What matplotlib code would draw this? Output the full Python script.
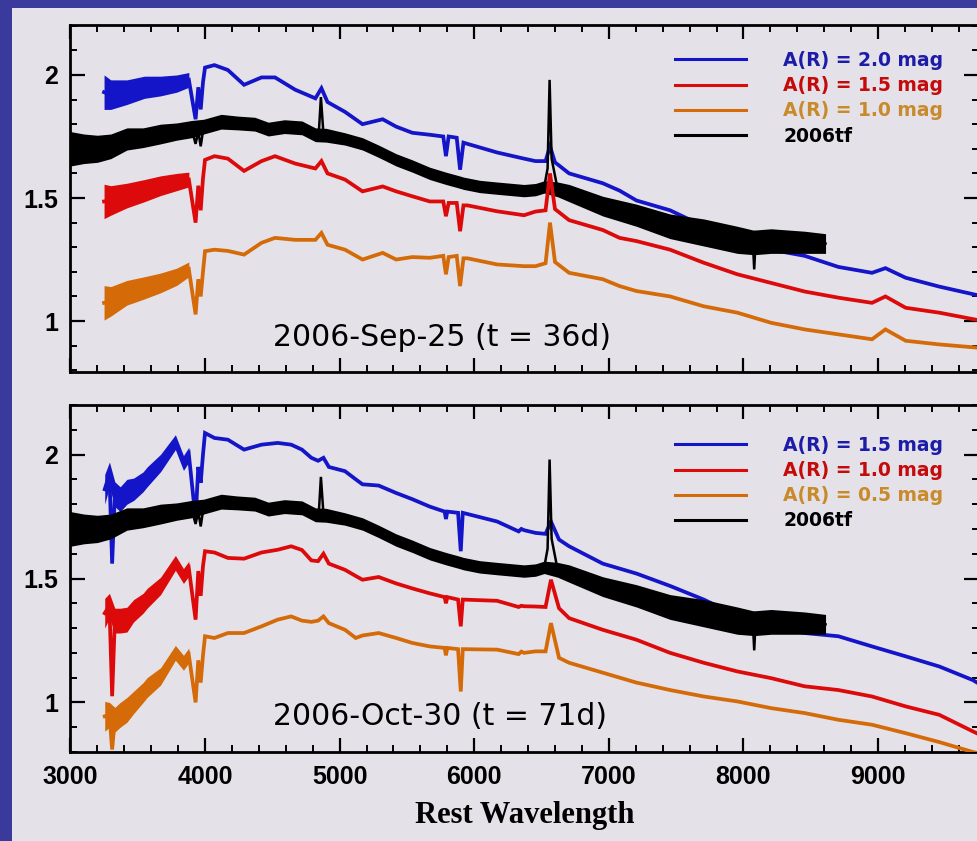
import numpy as np
import matplotlib
matplotlib.use("Agg")
import matplotlib.pyplot as plt
from matplotlib.patches import Rectangle
from matplotlib.lines import Line2D
from matplotlib.ticker import MultipleLocator, FixedLocator, FixedFormatter

# ---------------- data ----------------
# Top panel (2006-Sep-25): comparison spectrum reddened by A(R)=2.0/1.5/1.0 mag
wl_top = [3250, 3300, 3420, 3550, 3670, 3790, 3880, 3930, 3950, 3968, 3985, 4000,
          4070, 4170, 4290, 4420, 4520, 4670, 4820, 4865, 4910, 5040, 5170, 5320,
          5420, 5540, 5670, 5770, 5790, 5810, 5870, 5895, 5920, 5950, 6170, 6370,
          6455, 6530, 6563, 6600, 6705, 6955, 7080, 7205, 7455, 7705, 7955, 8205,
          8455, 8705, 8955, 9055, 9205, 9455, 9780]
top_ar20 = [1.93, 1.92, 1.93, 1.95, 1.955, 1.965, 1.98, 1.82, 1.95, 1.86, 1.97, 2.03,
            2.04, 2.02, 1.96, 1.99, 1.99, 1.94, 1.905, 1.946, 1.89, 1.85, 1.80, 1.82,
            1.79, 1.765, 1.757, 1.75, 1.67, 1.75, 1.745, 1.615, 1.725, 1.72, 1.685, 1.66,
            1.65, 1.65, 1.71, 1.645, 1.60, 1.56, 1.53, 1.49, 1.45, 1.385, 1.33, 1.29,
            1.265, 1.22, 1.196, 1.215, 1.176, 1.14, 1.10]
top_ar15 = [1.486, 1.49, 1.51, 1.53, 1.55, 1.565, 1.575, 1.40, 1.55, 1.45, 1.58, 1.655,
            1.67, 1.66, 1.61, 1.65, 1.67, 1.64, 1.62, 1.65, 1.60, 1.575, 1.527, 1.547,
            1.527, 1.507, 1.486, 1.486, 1.426, 1.48, 1.48, 1.365, 1.47, 1.47, 1.446, 1.43,
            1.445, 1.45, 1.60, 1.455, 1.41, 1.37, 1.338, 1.325, 1.29, 1.237, 1.19, 1.155,
            1.12, 1.095, 1.074, 1.10, 1.054, 1.034, 1.00]
top_ar10 = [1.074, 1.08, 1.115, 1.135, 1.155, 1.18, 1.21, 1.027, 1.17, 1.10, 1.20, 1.284,
            1.29, 1.285, 1.27, 1.318, 1.338, 1.33, 1.33, 1.358, 1.31, 1.29, 1.25, 1.277,
            1.25, 1.26, 1.257, 1.265, 1.19, 1.26, 1.265, 1.142, 1.255, 1.255, 1.23, 1.223,
            1.223, 1.235, 1.40, 1.24, 1.196, 1.17, 1.142, 1.122, 1.10, 1.06, 1.034, 0.993,
            0.966, 0.946, 0.926, 0.966, 0.92, 0.905, 0.89]
# half-width of the noise band (0 = no band at that point)
top_noise = [0.07, 0.06, 0.05, 0.045, 0.04, 0.035, 0.03, 0, 0, 0, 0, 0,
             0, 0, 0, 0, 0, 0, 0, 0, 0, 0, 0, 0,
             0, 0, 0, 0, 0, 0, 0, 0, 0, 0, 0, 0,
             0, 0, 0, 0, 0, 0, 0, 0, 0, 0, 0, 0,
             0, 0, 0, 0, 0, 0, 0]

# Bottom panel (2006-Oct-30): A(R)=1.5/1.0/0.5 mag
wl_bot = [3255, 3290, 3310, 3330, 3370, 3420, 3470, 3540, 3570, 3670, 3780, 3840,
          3880, 3930, 3950, 3968, 3985, 4000, 4070, 4170, 4290, 4420, 4540, 4640,
          4720, 4790, 4840, 4880, 4920, 5040, 5120, 5170, 5290, 5420, 5540, 5670,
          5780, 5790, 5800, 5880, 5900, 5915, 6170, 6330, 6350, 6370, 6455, 6530,
          6570, 6630, 6705, 6955, 7205, 7455, 7705, 7955, 8205, 8455, 8705, 8955,
          9205, 9455, 9705, 9782]
bot_ar15 = [1.86, 1.92, 1.56, 1.84, 1.82, 1.85, 1.86, 1.89, 1.91, 1.966, 2.05, 1.966,
            2.00, 1.74, 1.95, 1.886, 2.00, 2.087, 2.067, 2.06, 2.02, 2.04, 2.047, 2.04,
            2.02, 1.987, 1.975, 1.987, 1.95, 1.933, 1.90, 1.88, 1.875, 1.845, 1.82, 1.79,
            1.77, 1.74, 1.77, 1.765, 1.61, 1.765, 1.73, 1.69, 1.70, 1.695, 1.684, 1.68,
            1.73, 1.657, 1.63, 1.56, 1.52, 1.47, 1.415, 1.35, 1.307, 1.28, 1.267, 1.226,
            1.186, 1.145, 1.09, 1.065]
bot_ar10 = [1.36, 1.39, 1.025, 1.33, 1.33, 1.334, 1.37, 1.40, 1.42, 1.47, 1.563, 1.51,
            1.54, 1.334, 1.53, 1.43, 1.55, 1.61, 1.605, 1.583, 1.58, 1.605, 1.616, 1.63,
            1.615, 1.573, 1.57, 1.60, 1.56, 1.535, 1.51, 1.495, 1.506, 1.48, 1.46, 1.44,
            1.425, 1.40, 1.425, 1.415, 1.307, 1.415, 1.41, 1.385, 1.39, 1.388, 1.387, 1.385,
            1.495, 1.38, 1.34, 1.293, 1.253, 1.20, 1.16, 1.125, 1.098, 1.065, 1.05, 1.024,
            0.984, 0.95, 0.883, 0.863]
bot_ar05 = [0.944, 0.95, 0.81, 0.93, 0.95, 0.97, 1.00, 1.04, 1.06, 1.105, 1.20, 1.16,
            1.19, 1.00, 1.17, 1.08, 1.19, 1.267, 1.26, 1.28, 1.28, 1.307, 1.334, 1.347,
            1.33, 1.325, 1.33, 1.347, 1.32, 1.293, 1.26, 1.27, 1.28, 1.26, 1.24, 1.226,
            1.22, 1.19, 1.22, 1.215, 1.044, 1.215, 1.213, 1.195, 1.205, 1.20, 1.206, 1.206,
            1.32, 1.18, 1.16, 1.12, 1.08, 1.05, 1.024, 1.004, 0.977, 0.957, 0.93, 0.91,
            0.876, 0.84, 0.80, 0.79]
bot_noise = [0.06, 0.05, 0, 0.05, 0.05, 0.05, 0.045, 0.04, 0.04, 0.035, 0.03, 0.03,
             0.03, 0, 0, 0, 0, 0, 0, 0, 0, 0, 0, 0,
             0, 0, 0, 0, 0, 0, 0, 0, 0, 0, 0, 0,
             0, 0, 0, 0, 0, 0, 0, 0, 0, 0, 0, 0,
             0, 0, 0, 0, 0, 0, 0, 0, 0, 0, 0, 0,
             0, 0, 0, 0]

# SN 2006tf observed spectrum (black)
wl_06tf = [3000, 3100, 3200, 3300, 3420, 3540, 3670, 3790, 3900, 3930, 3950, 3968,
           3990, 4120, 4240, 4370, 4470, 4590, 4720, 4820, 4845, 4861, 4880, 4900,
           5040, 5170, 5290, 5420, 5540, 5670, 5790, 5890, 5905, 5920, 6040, 6170,
           6370, 6455, 6520, 6545, 6560, 6575, 6620, 6705, 6955, 7205, 7455, 7705,
           7955, 8070, 8080, 8090, 8205, 8455, 8610]
flux_06tf = [1.70, 1.70, 1.70, 1.71, 1.74, 1.745, 1.76, 1.77, 1.78, 1.72, 1.77, 1.71,
             1.79, 1.81, 1.805, 1.80, 1.78, 1.79, 1.785, 1.757, 1.76, 1.91, 1.76, 1.755,
             1.74, 1.72, 1.69, 1.655, 1.63, 1.60, 1.58, 1.565, 1.54, 1.56, 1.547, 1.54,
             1.53, 1.534, 1.545, 1.62, 1.98, 1.66, 1.535, 1.52, 1.467, 1.43, 1.385, 1.36,
             1.33, 1.32, 1.21, 1.32, 1.325, 1.32, 1.315]
noise_06tf = [0.07, 0.06, 0.055, 0.05, 0.045, 0.04, 0.04, 0.035, 0.035, 0, 0, 0,
              0.03, 0.03, 0.028, 0.028, 0.028, 0.028, 0.028, 0.028, 0, 0, 0, 0.028,
              0.025, 0.025, 0.025, 0.025, 0.025, 0.025, 0.025, 0.025, 0, 0.025, 0.025, 0.025,
              0.025, 0.025, 0.025, 0, 0, 0, 0.03, 0.035, 0.04, 0.045, 0.05, 0.055,
              0.055, 0.05, 0, 0.05, 0.05, 0.045, 0.04]

top_labels = ["A(R) = 2.0 mag", "A(R) = 1.5 mag", "A(R) = 1.0 mag", "2006tf"]
bot_labels = ["A(R) = 1.5 mag", "A(R) = 1.0 mag", "A(R) = 0.5 mag", "2006tf"]
epoch_labels = ["2006-Sep-25 (t = 36d)", "2006-Oct-30 (t = 71d)"]
xlabel = "Rest Wavelength"
x_ticks = [3000, 4000, 5000, 6000, 7000, 8000, 9000]
y_ticks = [1, 1.5, 2]
y_ticklabels = ["1", "1.5", "2"]

# ---------------- style ----------------
C_BLUE = "#1414c8"
C_RED = "#dc0a0a"
C_ORANGE = "#d46a08"
C_BLACK = "#000000"
TXT_COLORS = ["#1c1ca8", "#c40a0a", "#c88a2a", "#000000"]
BG = "#e4e2e8"
BORDER = "#3a3a9c"

W, H = 977, 841
fig = plt.figure(figsize=(W / 100, H / 100), dpi=100, facecolor=BORDER)
fig.patches.append(Rectangle((12 / W, 0), 1, 1 - 8 / H, transform=fig.transFigure,
                             facecolor=BG, edgecolor="none", zorder=-5))

left = 70.4 / W
width = (979 - 70.4) / W
ax_top = fig.add_axes([left, 1 - 372 / H, width, 347 / H])
ax_bot = fig.add_axes([left, 1 - 752 / H, width, 347 / H])

tick_font = dict(family=["Liberation Sans", "DejaVu Sans"], weight="bold", size=18)


def draw_spec(ax, wl, flux, noise, color, lw=2.7, z=2):
    wl = np.asarray(wl, float)
    flux = np.asarray(flux, float)
    noise = np.asarray(noise, float)
    idx = np.where(noise > 0)[0]
    if idx.size:
        # noise envelope: contiguous runs of envelope points
        runs = np.split(idx, np.where(np.diff(wl[idx]) > 400)[0] + 1)
        for r in runs:
            if r.size > 1:
                ax.fill_between(wl[r], flux[r] - noise[r], flux[r] + noise[r],
                                color=color, lw=0, zorder=z)
    ax.plot(wl, flux, color=color, lw=lw, zorder=z + 0.1, solid_joinstyle="miter")


def style_axes(ax, ylim, show_xlabels):
    ax.set_facecolor(BG)
    ax.set_xlim(3000, 9750)
    ax.set_ylim(*ylim)
    ax.xaxis.set_major_locator(FixedLocator(x_ticks))
    ax.xaxis.set_minor_locator(MultipleLocator(200))
    ax.yaxis.set_major_locator(FixedLocator(y_ticks))
    ax.yaxis.set_major_formatter(FixedFormatter(y_ticklabels))
    ax.yaxis.set_minor_locator(MultipleLocator(0.1))
    ax.tick_params(which="both", direction="in", top=True, right=True, color="black")
    ax.tick_params(which="major", length=10, width=1.6, pad=9)
    ax.tick_params(which="minor", length=5, width=1.4)
    ax.tick_params(axis="y", which="major", length=11)
    for sp in ax.spines.values():
        sp.set_linewidth(2.0)
    for lab in ax.get_yticklabels():
        lab.set_fontproperties(tick_font)
    if show_xlabels:
        for lab in ax.get_xticklabels():
            lab.set_fontproperties(tick_font)
    else:
        ax.set_xticklabels([])


# top panel
draw_spec(ax_top, wl_top, top_ar20, top_noise, C_BLUE, z=2)
draw_spec(ax_top, wl_06tf, flux_06tf, noise_06tf, C_BLACK, lw=1.8, z=3)
draw_spec(ax_top, wl_top, top_ar15, top_noise, C_RED, z=4)
draw_spec(ax_top, wl_top, top_ar10, top_noise, C_ORANGE, z=5)
style_axes(ax_top, (0.793, 2.203), False)

# bottom panel
draw_spec(ax_bot, wl_bot, bot_ar15, bot_noise, C_BLUE, z=2)
draw_spec(ax_bot, wl_06tf, flux_06tf, noise_06tf, C_BLACK, lw=1.8, z=3)
draw_spec(ax_bot, wl_bot, bot_ar10, bot_noise, C_RED, z=4)
draw_spec(ax_bot, wl_bot, bot_ar05, bot_noise, C_ORANGE, z=5)
style_axes(ax_bot, (0.80, 2.20), True)

ax_bot.set_xlabel(xlabel, fontdict=dict(family=["Liberation Serif", "DejaVu Serif"],
                                        weight="bold", size=22), labelpad=9)

# epoch annotations
epoch_font = dict(family=["DejaVu Sans"], size=21.5)
ax_top.text(4505, 0.90, epoch_labels[0], ha="left", va="baseline", **epoch_font, zorder=10)
ax_bot.text(4505, 0.91, epoch_labels[1], ha="left", va="baseline", **epoch_font, zorder=10)

# legends
line_colors = [C_BLUE, C_RED, C_ORANGE, C_BLACK]
legend_font = dict(family=["DejaVu Sans"], weight="bold", size=13.5)
for ax, labels, anchor in [(ax_top, top_labels, (0.665, 0.925)),
                           (ax_bot, bot_labels, (0.665, 0.911))]:
    handles = [Line2D([], [], color=c, lw=2.2) for c in line_colors]
    leg = ax.legend(handles, labels, loc="upper left", bbox_to_anchor=anchor,
                    frameon=False, prop=legend_font, handlelength=3.8,
                    handletextpad=2.0, labelspacing=0.33, borderpad=0,
                    borderaxespad=0)
    for t, c in zip(leg.get_texts(), TXT_COLORS):
        t.set_color(c)

fig.savefig("out.png", dpi=100, facecolor=fig.get_facecolor())
